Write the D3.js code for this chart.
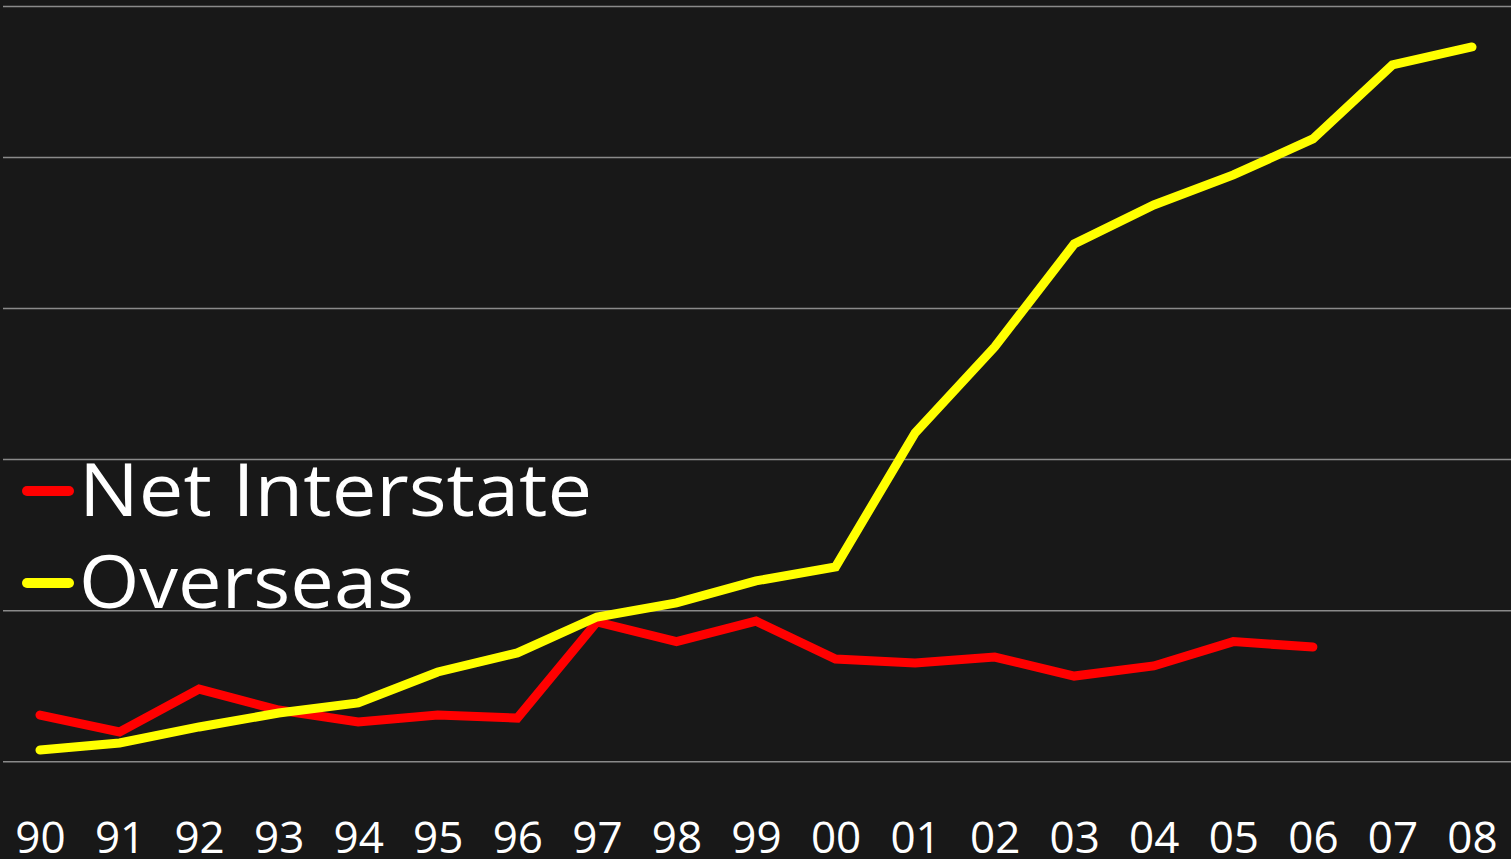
<!DOCTYPE html>
<html>
  <head>
    <meta charset="utf-8">
    <title>Net Interstate and Overseas</title>
    <script src="https://d3js.org/d3.v7.min.js"></script>
    <style>
      html, body { margin: 0; padding: 0; background: #181818; }
      svg { display: block; }
      text { font-family: "Open Sans", sans-serif; fill: #ffffff; }
    </style>
  </head>
  <body>
    <svg id="chart" width="1511" height="859"></svg>
    <script>
      // data (thousands)
      var years = ["90", "91", "92", "93", "94", "95", "96", "97", "98", "99",
                   "00", "01", "02", "03", "04", "05", "06", "07", "08"];
      var netInterstate = [3.09, 1.97, 4.81, 3.42, 2.63, 3.09, 2.89, 9.25, 7.95, 9.31,
                           6.80, 6.54, 6.93, 5.67, 6.34, 7.95, 7.59];
      var overseas = [0.77, 1.24, 2.30, 3.22, 3.89, 5.94, 7.20, 9.58, 10.51, 11.97,
                      12.90, 21.77, 27.46, 34.28, 36.86, 38.85, 41.23, 46.13, 47.32];
      var gridTicks = [0, 10, 20, 30, 40, 50];
      var seriesNames = ["Net Interstate", "Overseas"];
      var seriesColours = ["#ff0000", "#ffff00"];

      var chart = d3.select("#chart");
      var width = 1511, height = 859;

      x = d3.scalePoint()
        .domain(years)
        .range([40, 1472]);
      y = d3.scaleLinear()
        .domain([0, 50])
        .range([761.7, 6.5]);

      // gridlines
      chart.append("g")
        .selectAll("line")
          .data(gridTicks)
        .enter().append("line")
          .attr("x1", 3)
          .attr("x2", width)
          .attr("y1", function(d) { return y(d); })
          .attr("y2", function(d) { return y(d); })
          .style("stroke", "#8a8a8a")
          .style("stroke-width", 1.5);

      // x labels
      var xAxis = d3.axisBottom(x).tickSize(0).tickPadding(0);
      var xAxisGroup = chart.append("g")
        .attr("transform", "translate(0, 822)")
        .call(xAxis);
      xAxisGroup.select(".domain").remove();
      xAxisGroup.selectAll("text")
        .attr("dy", "0.71em")
        .style("font-size", "44px")
        .style("font-family", "'Open Sans', sans-serif")
        .style("fill", "#ffffff");

      // lines
      var line = d3.line()
        .x(function(d, i) { return x(years[i]); })
        .y(function(d) { return y(d); });
      [netInterstate, overseas].forEach(function(series, k) {
        chart.append("path")
          .datum(series)
          .attr("d", line)
          .style("fill", "none")
          .style("stroke", seriesColours[k])
          .style("stroke-width", 9)
          .style("stroke-linejoin", "miter")
          .style("stroke-linecap", "round");
      });

      // legend
      var legend = chart.append("g");
      var legendRows = [491, 583];
      seriesNames.forEach(function(name, k) {
        legend.append("line")
          .attr("x1", 27)
          .attr("x2", 69)
          .attr("y1", legendRows[k])
          .attr("y2", legendRows[k])
          .style("stroke", seriesColours[k])
          .style("stroke-width", 10)
          .style("stroke-linecap", "round");
        legend.append("text")
          .attr("x", 79)
          .attr("y", legendRows[k] + 25)
          .style("font-size", "73px")
          .text(name);
      });
      var widths = [513, 335];
      legend.selectAll("text").each(function(d, i) {
        d3.select(this)
          .attr("textLength", widths[i])
          .attr("lengthAdjust", "spacingAndGlyphs");
      });
    </script>
  </body>
</html>
